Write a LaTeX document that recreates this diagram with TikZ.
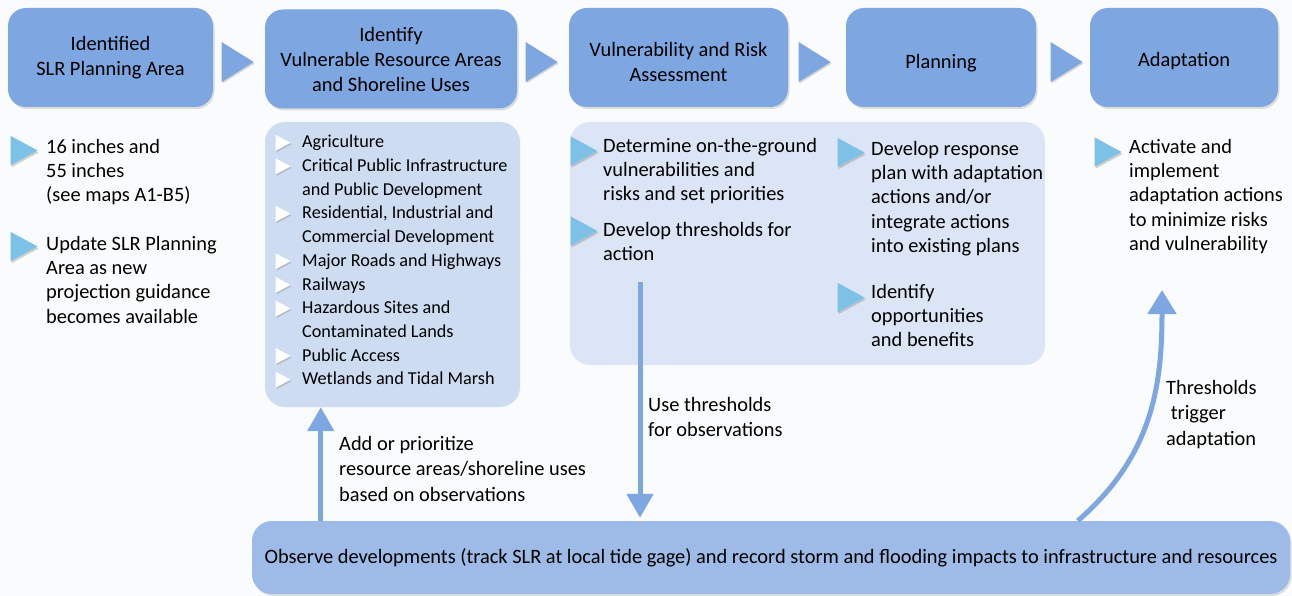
\documentclass[tikz,border=0pt]{standalone}
\usepackage{fontspec}
\setmainfont{Carlito}
\usetikzlibrary{shapes.geometric,shadows,arrows.meta}

\definecolor{stageblue}{RGB}{126,166,224}
\definecolor{listblue}{RGB}{206,220,242}
\definecolor{panelblue}{RGB}{220,229,245}
\definecolor{obsblue}{RGB}{158,186,230}
\definecolor{tipblue}{RGB}{125,194,230}
\definecolor{paper}{RGB}{250,251,252}

\begin{document}
\begin{tikzpicture}[x=1pt,y=-1pt,
        stage/.style={rounded corners=18pt,fill=stageblue,align=center,inner sep=0pt,
                minimum height=99pt,font=\fontsize{20.4}{25}\selectfont,
                drop shadow={shadow xshift=1.5pt,shadow yshift=-2pt,opacity=0.25}},
        panel/.style={rounded corners=20pt,inner sep=0pt},
        chev/.style={isosceles triangle,isosceles triangle apex angle=64,anchor=apex,
                fill=stageblue,inner sep=0pt,minimum height=32pt,
                drop shadow={shadow xshift=1pt,shadow yshift=-1.5pt,opacity=0.3}},
        bigtip/.style={isosceles triangle,isosceles triangle apex angle=57,anchor=apex,
                fill=tipblue,inner sep=0pt,minimum height=27pt,
                drop shadow={shadow xshift=1pt,shadow yshift=-2pt,opacity=0.35}},
        smalltip/.style={isosceles triangle,isosceles triangle apex angle=56,anchor=apex,
                fill=white,inner sep=0pt,minimum height=15pt,
                drop shadow={shadow xshift=1pt,shadow yshift=-1.5pt,opacity=0.35}},
        txt/.style={anchor=north west,inner sep=0pt,align=left,
                font=\fontsize{20.4}{24.3}\selectfont},
        item/.style={txt,font=\fontsize{18.2}{23.7}\selectfont},
        note/.style={txt,font=\fontsize{20.4}{25.5}\selectfont},
        flow/.style={draw=stageblue,line width=5pt,-{Triangle[width=26pt,length=24pt]}}]

\fill[paper] (0,0) rectangle (1292,596);
\useasboundingbox (0,0) rectangle (1292,596);

% panels under the stages
\node[panel,fill=listblue,minimum width=255pt,minimum height=285pt] (ListB) at (392.5,264.5) {};
\node[panel,fill=panelblue,minimum width=475pt,minimum height=243pt] (PanelC) at (807.5,243.5) {};

% stages
\node[stage,minimum width=205pt] (StageA) at (110.5,57.5) {Identified\\SLR Planning Area};
\node[stage,minimum width=252pt] (StageB) at (391,59) {Identify\\Vulnerable Resource Areas\\and Shoreline Uses};
\node[stage,minimum width=219pt,text height=48pt,text depth=0pt] (StageC) at (678.5,57.5) {Vulnerability and Risk\\Assessment};
\node[stage,minimum width=190pt,text height=23pt,text depth=0pt] (StageD) at (941,57.5) {Planning};
\node[stage,minimum width=188pt,text height=19pt,text depth=0pt] (StageE) at (1184,57.5) {Adaptation};

\node[chev] (ChevA) at (254,62) {};
\node[chev] (ChevB) at (558,62) {};
\node[chev] (ChevC) at (831,62) {};
\node[chev] (ChevD) at (1083,62) {};

% column A
\node[bigtip] (TipA1) at (38,150.5) {};
\node[txt] (TextA1) at (46,136) {\strut 16 inches and\\55 inches\\(see maps A1-B5)};
\node[bigtip] (TipA2) at (38,246.5) {};
\node[txt] (TextA2) at (46,233) {\strut Update SLR Planning\\Area as new\\projection guidance\\becomes available};

% column B
\node[smalltip] (TipB1) at (291,142.7) {};
\node[item] (ItemB1) at (302,131.1) {\strut Agriculture};
\node[smalltip] (TipB2) at (291,166.4) {};
\node[item] (ItemB2) at (302,154.8) {\strut Critical Public Infrastructure\\and Public Development};
\node[smalltip] (TipB3) at (291,213.8) {};
\node[item] (ItemB3) at (302,202.2) {\strut Residential, Industrial and\\Commercial Development};
\node[smalltip] (TipB4) at (291,261.2) {};
\node[item] (ItemB4) at (302,249.6) {\strut Major Roads and Highways};
\node[smalltip] (TipB5) at (291,284.9) {};
\node[item] (ItemB5) at (302,273.3) {\strut Railways};
\node[smalltip] (TipB6) at (291,308.6) {};
\node[item] (ItemB6) at (302,297) {\strut Hazardous Sites and\\Contaminated Lands};
\node[smalltip] (TipB7) at (291,356) {};
\node[item] (ItemB7) at (302,344.4) {\strut Public Access};
\node[smalltip] (TipB8) at (291,379.7) {};
\node[item] (ItemB8) at (302,368.1) {\strut Wetlands and Tidal Marsh};

% column C
\node[bigtip] (TipC1) at (598,151) {};
\node[txt] (TextC1) at (603,135) {\strut Determine on-the-ground\\vulnerabilities and\\risks and set priorities};
\node[bigtip] (TipC2) at (598,231) {};
\node[txt] (TextC2) at (603,219) {\strut Develop thresholds for\\action};

% column D
\node[bigtip] (TipD1) at (865,152.5) {};
\node[txt] (TextD1) at (871,138) {\strut Develop response\\plan with adaptation\\actions and/or\\integrate actions\\into existing plans};
\node[bigtip] (TipD2) at (865,297.5) {};
\node[txt] (TextD2) at (871,281) {\strut Identify\\opportunities\\and benefits};

% column E
\node[bigtip] (TipE1) at (1122,152) {};
\node[txt] (TextE1) at (1129,136) {\strut Activate and\\implement\\adaptation actions\\to minimize risks\\and vulnerability};

% observation
\node[stage,fill=obsblue,rounded corners=20pt,minimum width=1038pt,minimum height=73pt] (Observe) at (771,557.5)
        {Observe developments (track SLR at local tide gage) and record storm and flooding impacts to infrastructure and resources};

\coordinate (ThrStart) at (640,282);
\coordinate (TrigTip) at (1162,290);

\draw[flow] ([xshift=69pt]Observe.north west) -- ([xshift=69pt]Observe.north west |- ListB.south);
\draw[flow,shorten >=3pt] (ThrStart) -- (ThrStart |- Observe.north);
\draw[flow,-{Triangle[width=28pt,length=24pt]}] ([xshift=826pt]Observe.north west) .. controls +(75,-65) and +(0,95) .. (TrigTip);

\node[note] (AddNote) at (339,432) {\strut Add or prioritize\\resource areas/shoreline uses\\based on observations};
\node[note] (UseNote) at (648,393) {\strut Use thresholds\\for observations};
\node[note] (TrigNote) at (1166,376) {\strut Thresholds\\\ trigger\\adaptation};

\end{tikzpicture}
\end{document}
